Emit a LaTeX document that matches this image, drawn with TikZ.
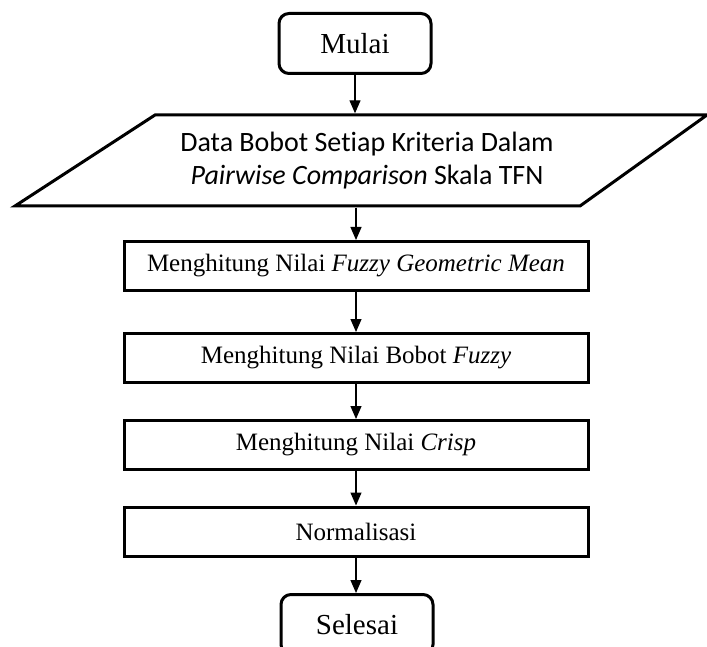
\documentclass[tikz,border=0pt]{standalone}
\usepackage{fontspec}
\setmainfont{Liberation Serif}
\newfontfamily\calibri[Ligatures=NoCommon]{Carlito}
\usetikzlibrary{arrows.meta,positioning}

\begin{document}
\begin{tikzpicture}[x=1pt,y=-1pt,
        term/.style={draw, line width=3pt, rounded corners=10pt, minimum width=152pt, minimum height=60pt, font=\fontsize{29}{34}\selectfont},
        proc/.style={draw, line width=3pt, minimum width=464pt, minimum height=49pt, font=\fontsize{25}{30}\selectfont},
        flow/.style={-{Triangle[width=11pt,length=13pt]}, line width=1.2pt}]
                \useasboundingbox (0,0) rectangle (707,647);
                \node[term] (mulai) at (355,43.5) {Mulai};
                \node[align=center, minimum height=94pt, font=\calibri\fontsize{28}{33}\selectfont] (data) at (367,160.5)
                    {Data Bobot Setiap Kriteria Dalam\\\textit{Pairwise Comparison} Skala TFN};
                \draw[line width=3pt, line join=miter] (155,115) -- (707,115) -- (580,206) -- (15,206) -- cycle;
                \node[proc] (fgm) at (356,266) {Menghitung Nilai \textit{Fuzzy Geometric Mean}};
                \node[proc] (bobot) at (356,358) {Menghitung Nilai Bobot \textit{Fuzzy}};
                \node[proc] (crisp) at (356,445) {Menghitung Nilai \textit{Crisp}};
                \node[proc] (norm) at (356,531.5) {Normalisasi};
                \node[term] (selesai) at (357,624.5) {Selesai};
                \draw[flow] (mulai) -- (mulai |- data.north);
                \draw[flow] (fgm |- data.south) -- (fgm);
                \draw[flow] (fgm) -- (bobot);
                \draw[flow] (bobot) -- (crisp);
                \draw[flow] (crisp) -- (norm);
                \draw[flow] (norm) -- (norm |- selesai.north);
\end{tikzpicture}
\end{document}
